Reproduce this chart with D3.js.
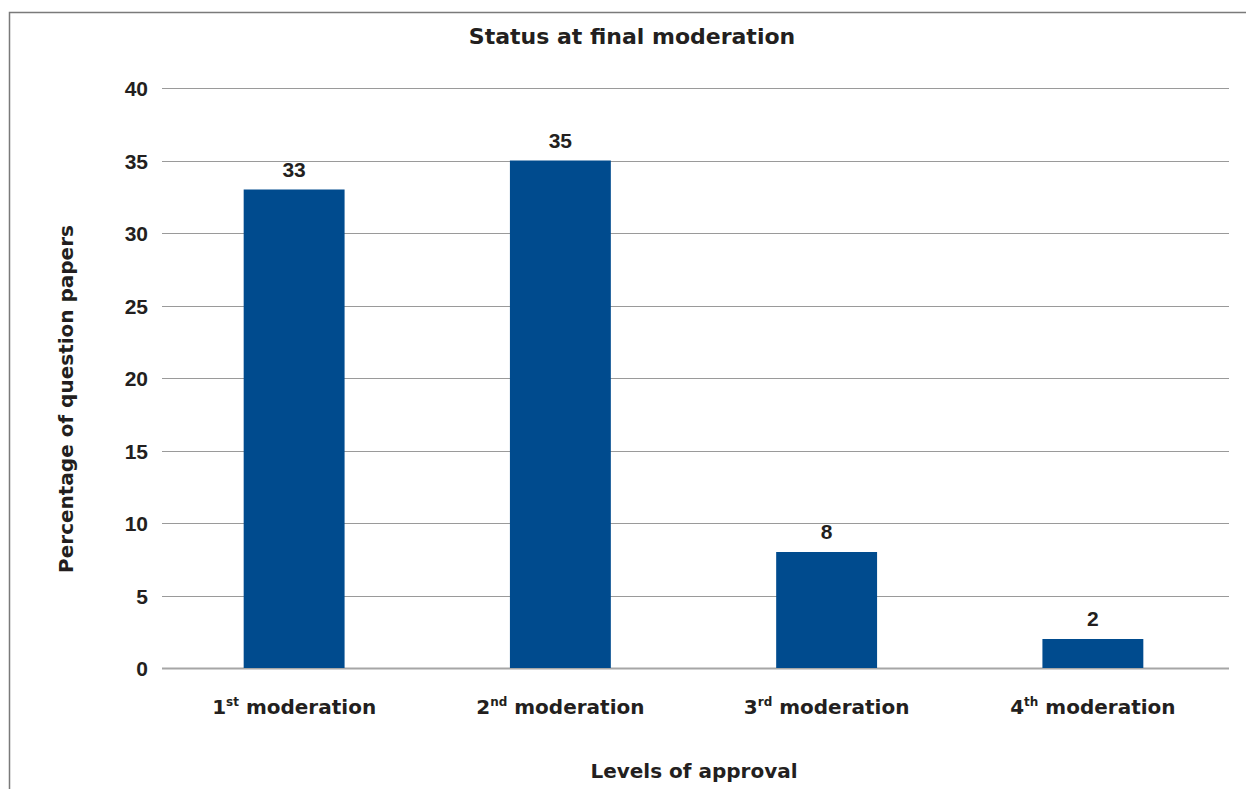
<!DOCTYPE html>
<html>
<head>
<meta charset="utf-8">
<script src="https://cdn.jsdelivr.net/npm/d3@7"></script>
<style>
  html, body { margin: 0; padding: 0; background: #fff; }
  svg { display: block; }
  text { font-family: "DejaVu Sans", Verdana, sans-serif; font-weight: bold; fill: #231f20; }
  text.num { font-family: "Liberation Sans", Arial, sans-serif; }
</style>
</head>
<body>
<script>
// Approval levels and the share of question papers approved at each one
const levels = ["1", "2", "3", "4"];
const suffixes = ["st", "nd", "rd", "th"];
const percentages = [33, 35, 8, 2];
const yTicks = [0, 5, 10, 15, 20, 25, 30, 35, 40];

const W = 1246, H = 789;
const margin = { left: 162, right: 17, top: 88, bottom: 121 };

const svg = d3.select("body").append("svg")
  .attr("width", W).attr("height", H);

// outer frame (open at right and bottom edges)
svg.append("path")
  .attr("d", `M9.5,${H} V12.5 H${W}`)
  .attr("fill", "none")
  .attr("stroke", "#7a7a7a")
  .attr("stroke-width", 1.5);

const x = d3.scaleBand()
  .domain(levels)
  .range([margin.left - 1, W - margin.right - 3])
  .paddingInner(0.621)
  .paddingOuter(0.3105);

const y = d3.scaleLinear()
  .domain([0, 40])
  .range([H - margin.bottom, margin.top]);

// horizontal gridlines
svg.append("g")
  .selectAll("line")
  .data(yTicks)
  .join("line")
  .attr("x1", margin.left)
  .attr("x2", W - margin.right)
  .attr("y1", d => Math.round(y(d)) + 0.5)
  .attr("y2", d => Math.round(y(d)) + 0.5)
  .attr("stroke", d => d === 0 ? "#a6a6a6" : "#9a9a9a")
  .attr("stroke-width", d => d === 0 ? 2 : 1);

// y axis tick labels
const yAxis = d3.axisLeft(y).tickValues(yTicks).tickSize(0).tickPadding(0);
const gy = svg.append("g")
  .attr("transform", `translate(${margin.left - 14},0)`)
  .call(yAxis);
gy.select(".domain").remove();
gy.selectAll("text")
  .attr("class", "num")
  .attr("font-size", 21)
  .attr("font-family", null)
  .attr("fill", "#231f20")
  .attr("dy", "0.36em");

// bars
svg.append("g")
  .selectAll("rect")
  .data(percentages)
  .join("rect")
  .attr("x", (d, i) => x(levels[i]))
  .attr("width", x.bandwidth())
  .attr("y", d => y(d))
  .attr("height", d => y(0) - y(d))
  .attr("fill", "#004b8e");

// value labels above bars
svg.append("g")
  .selectAll("text")
  .data(percentages)
  .join("text")
  .attr("class", "num")
  .attr("x", (d, i) => x(levels[i]) + x.bandwidth() / 2)
  .attr("y", d => y(d) - 13)
  .attr("text-anchor", "middle")
  .attr("font-size", 21)
  .text(d => d);

// category labels with ordinal superscripts
const cat = svg.append("g")
  .selectAll("text")
  .data(levels)
  .join("text")
  .attr("x", d => x(d) + x.bandwidth() / 2)
  .attr("y", 714)
  .attr("text-anchor", "middle")
  .attr("font-size", 20);
cat.append("tspan").text(d => d);
cat.append("tspan")
  .attr("font-size", 12)
  .attr("dy", -8)
  .text((d, i) => suffixes[i]);
cat.append("tspan")
  .attr("dy", 8)
  .text(" moderation");

// title
svg.append("text")
  .attr("x", 632)
  .attr("y", 44)
  .attr("text-anchor", "middle")
  .attr("font-size", 22)
  .text("Status at final moderation");

// x axis title
svg.append("text")
  .attr("x", 694)
  .attr("y", 778)
  .attr("text-anchor", "middle")
  .attr("font-size", 20)
  .text("Levels of approval");

// y axis title
svg.append("text")
  .attr("transform", "translate(73,399) rotate(-90)")
  .attr("text-anchor", "middle")
  .attr("font-size", 20)
  .text("Percentage of question papers");
</script>
</body>
</html>
